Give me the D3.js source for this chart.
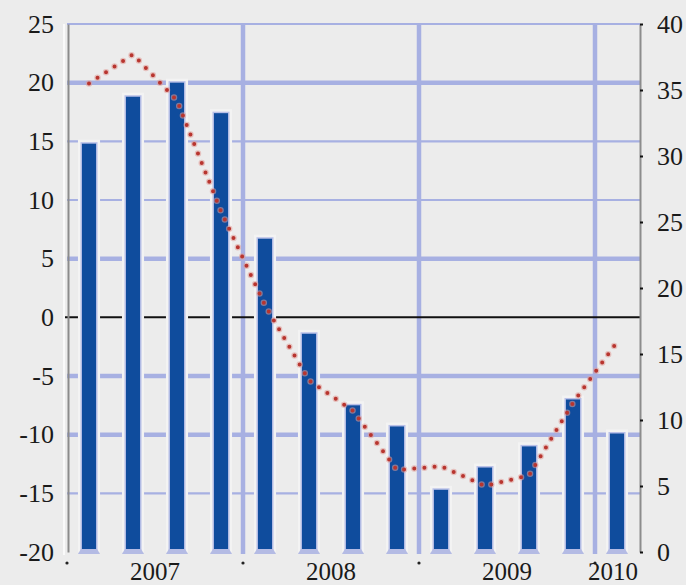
<!DOCTYPE html>
<html>
<head>
<meta charset="utf-8">
<script src="https://cdn.jsdelivr.net/npm/d3@7"></script>
<style>
  html, body { margin: 0; padding: 0; background: #ececec; }
  svg { display: block; }
</style>
</head>
<body>
<svg id="chart" width="686" height="585"></svg>
<script>
// Quarterly categories, 2007 Q1 – 2010 Q1
const quarters = ["2007Q1", "2007Q2", "2007Q3", "2007Q4",
                  "2008Q1", "2008Q2", "2008Q3", "2008Q4",
                  "2009Q1", "2009Q2", "2009Q3", "2009Q4",
                  "2010Q1"];
// Bars, left axis
const barValues = [14.8, 18.8, 20.0, 17.4, 6.7, -1.4, -7.5, -9.3,
                   -14.7, -12.8, -11.0, -7.0, -9.9];
// Dotted line, right axis
const lineValues = [35.5, 37.7, 34.2, 25.8, 18.7, 13.0, 10.7, 6.2,
                    6.5, 5.0, 5.8, 11.3, 15.9];
const years = ["2007", "2008", "2009", "2010"];
const leftTicks = [25, 20, 15, 10, 5, 0, -5, -10, -15, -20];
const rightTicks = [0, 5, 10, 15, 20, 25, 30, 35, 40];

const svg = d3.select("#chart");
const gridColor = "#a7b0e2";
const barColor = "#0f4c9d";
const lineColor = "#b8352f";
const font = "'Liberation Serif', 'Times New Roman', serif";
const fmt = d => (d < 0 ? "-" + Math.abs(d) : String(d));

const plotLeft = 67, plotRight = 640, plotTop = 24, plotBottom = 552;

const x = d3.scaleBand().domain(quarters).range([plotLeft, plotRight - 1])
  .paddingInner(0.68).paddingOuter(0.34);
const yL = d3.scaleLinear().domain([-20, 25]).range([plotBottom, plotTop]);
const yR = d3.scaleLinear().domain([0, 40]).range([plotBottom, plotTop]);

const gap = (x.step() - x.bandwidth()) / 2;
const yearOf = q => q.slice(0, 4);
const yearStart = yr => x(quarters.find(q => yearOf(q) === yr)) - gap;
const yearCenter = yr => {
  const qs = quarters.filter(q => yearOf(q) === yr);
  return d3.mean(qs, q => x(q) + x.bandwidth() / 2);
};

// horizontal gridlines
const heavy = new Set([20, 5, -5, -10]);
svg.append("g").selectAll("line")
  .data(leftTicks.filter(v => v !== 0 && v !== -20))
  .join("line")
  .attr("x1", plotLeft).attr("x2", plotRight)
  .attr("y1", d => yL(d)).attr("y2", d => yL(d))
  .attr("stroke", gridColor)
  .attr("stroke-width", d => heavy.has(d) ? 4.5 : 2.2);

// vertical gridlines at year boundaries
svg.append("g").selectAll("line")
  .data(years.slice(1))
  .join("line")
  .attr("x1", d => yearStart(d)).attr("x2", d => yearStart(d))
  .attr("y1", plotTop).attr("y2", plotBottom + 2)
  .attr("stroke", gridColor).attr("stroke-width", 4.5);

// zero line
svg.append("line")
  .attr("x1", plotLeft - 2).attr("x2", plotRight)
  .attr("y1", yL(0)).attr("y2", yL(0))
  .attr("stroke", "#111").attr("stroke-width", 2);

// light halo around each bar
svg.append("g").selectAll("rect")
  .data(quarters)
  .join("rect")
  .attr("x", d => x(d) - 4)
  .attr("width", x.bandwidth() + 8)
  .attr("y", (d, i) => yL(barValues[i]) - 4)
  .attr("height", (d, i) => yL(-20) - yL(barValues[i]) + 4)
  .attr("fill", "#f3f3f3");

// lavender edges
svg.append("g").selectAll("rect")
  .data(quarters)
  .join("rect")
  .attr("x", d => x(d) - 1.5)
  .attr("width", x.bandwidth() + 3)
  .attr("y", (d, i) => yL(barValues[i]) - 1.5)
  .attr("height", (d, i) => yL(-20) - yL(barValues[i]) + 1.5)
  .attr("fill", "#b9c0e8");

// bars, drawn from the bottom of the scale
svg.append("g").selectAll("rect")
  .data(quarters)
  .join("rect")
  .attr("x", d => x(d))
  .attr("width", x.bandwidth())
  .attr("y", (d, i) => yL(barValues[i]))
  .attr("height", (d, i) => yL(-20) - yL(barValues[i]))
  .attr("fill", barColor);

// bar base caps
svg.append("g").selectAll("path")
  .data(quarters)
  .join("path")
  .attr("d", d => {
    const x0 = x(d), w = x.bandwidth();
    return `M${x0 - 4},${plotBottom + 2} L${x0 - 1},${plotBottom - 3} L${x0 + w + 1},${plotBottom - 3} L${x0 + w + 4},${plotBottom + 2} Z`;
  })
  .attr("fill", "#b4bbe4");

// top gridline (25)
svg.append("line")
  .attr("x1", plotLeft).attr("x2", plotRight)
  .attr("y1", yL(25)).attr("y2", yL(25))
  .attr("stroke", gridColor).attr("stroke-width", 2);

// left axis
svg.append("line")
  .attr("x1", plotLeft - 3).attr("x2", plotLeft - 3)
  .attr("y1", plotTop).attr("y2", plotBottom + 3)
  .attr("stroke", "#fafafa").attr("stroke-width", 2);
const axL = svg.append("g")
  .attr("transform", `translate(${plotLeft + 1},0)`)
  .call(d3.axisLeft(yL).tickValues(leftTicks).tickSize(0).tickPadding(14)
    .tickFormat(fmt));
axL.select(".domain").attr("stroke", "#8c8c8c").attr("stroke-width", 2);
axL.selectAll("text")
  .attr("font-family", font).attr("font-size", 26).attr("fill", "#1a1a1a");

// right axis
const axR = svg.append("g")
  .attr("transform", `translate(${plotRight},0)`)
  .call(d3.axisRight(yR).tickValues(rightTicks).tickSize(3).tickSizeOuter(0)
    .tickPadding(14).tickFormat(fmt));
axR.select(".domain").attr("stroke", "#8c8c8c").attr("stroke-width", 2);
axR.selectAll(".tick line").attr("stroke", "#111").attr("stroke-width", 2);
axR.selectAll("text")
  .attr("font-family", font).attr("font-size", 26).attr("fill", "#1a1a1a");

// dotted line on the right scale
const line = d3.line()
  .x((d, i) => x(quarters[i]) + x.bandwidth() / 2)
  .y(d => yR(d));
svg.append("path")
  .datum(lineValues)
  .attr("d", line)
  .attr("fill", "none")
  .attr("stroke", "#e09d98")
  .attr("stroke-width", 6.5)
  .attr("stroke-linecap", "round")
  .attr("stroke-dasharray", "0 10.2")
  .attr("opacity", 0.55);
svg.append("path")
  .datum(lineValues)
  .attr("d", line)
  .attr("fill", "none")
  .attr("stroke", lineColor)
  .attr("stroke-width", 4)
  .attr("stroke-linecap", "round")
  .attr("stroke-dasharray", "0 10.2");

// year tick dots
svg.append("g").selectAll("circle")
  .data(years)
  .join("circle")
  .attr("cx", d => yearStart(d))
  .attr("cy", 563)
  .attr("r", 1.6)
  .attr("fill", "#222");

// year labels
svg.append("g").selectAll("text")
  .data(years)
  .join("text")
  .attr("x", d => yearCenter(d) - (d === "2010" ? 4 : 0))
  .attr("y", 580)
  .attr("text-anchor", "middle")
  .attr("font-family", font).attr("font-size", 25).attr("fill", "#1a1a1a")
  .text(d => d);
</script>
</body>
</html>
